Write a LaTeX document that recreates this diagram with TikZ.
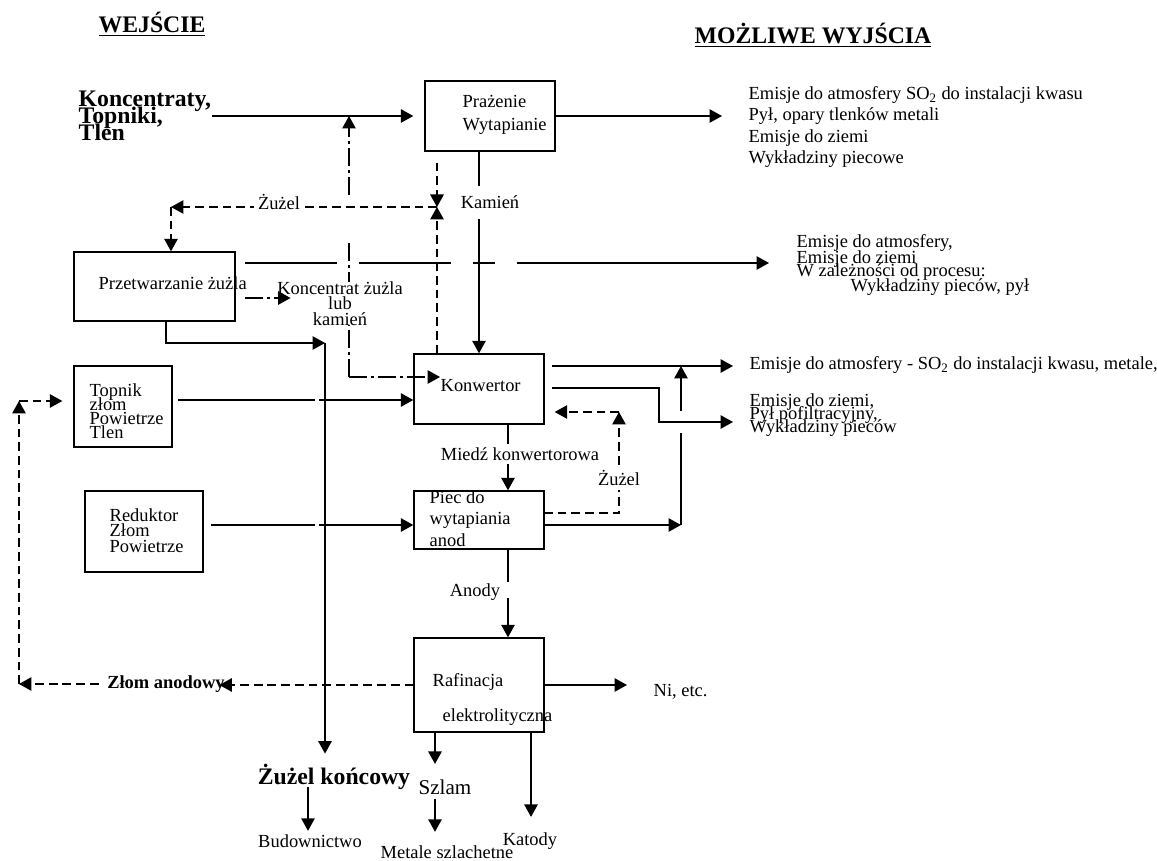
\documentclass[tikz,border=0pt]{standalone}
\usepackage{fontspec}
\setmainfont{Liberation Serif}
\usetikzlibrary{arrows.meta,calc}
\lineskiplimit=-\maxdimen

\tikzset{
  box/.style={draw, inner sep=0},
  txt/.style={inner sep=0, align=left, font=\fontsize{10.5}{12}\selectfont},
  lbl/.style={txt, fill=white},
  head/.style={inner sep=0, font=\fontsize{13.5}{16}\selectfont\bfseries},
  dsh/.style={dash pattern=on 5pt off 2.8pt},
  dd/.style={dash pattern=on 10pt off 2.5pt on 1.5pt off 2.5pt},
}

\begin{document}
\begin{tikzpicture}[x=0.02cm, y=-0.02cm, line width=0.8pt, >={Triangle[length=0.25cm,width=0.27cm]}]
  \useasboundingbox (0,0) rectangle (1157,861);

  % naglowki
  \node[head] (wej) at (152,24) {\underline{WEJŚCIE}};
  \node[head] (mozl) at (813,35) {\underline{MOŻLIWE WYJŚCIA}};

  % bloki procesu
  \node[box, minimum width=2.6cm, minimum height=1.4cm] (praz) at (490,116) {};
  \node[box, minimum width=3.22cm, minimum height=1.38cm] (przetw) at (154.5,286.5) {};
  \node[box, minimum width=1.96cm, minimum height=1.62cm] (topnik) at (123,406.5) {};
  \node[box, minimum width=2.36cm, minimum height=1.62cm] (redukt) at (144,531.5) {};
  \node[box, minimum width=2.6cm, minimum height=1.4cm] (konw) at (479,389) {};
  \node[box, minimum width=2.6cm, minimum height=1.16cm] (piec) at (479,520) {};
  \node[box, minimum width=2.6cm, minimum height=1.88cm] (raf) at (479,685) {};

  % napisy w blokach
  \node[txt, anchor=west, font=\fontsize{10.5}{13.1}\selectfont] (praz-t) at (462,115) {Prażenie\\Wytapianie};
  \node[txt, anchor=west] (przetw-t) at (98,283) {Przetwarzanie żużla};
  \node[txt, anchor=west, font=\fontsize{10.5}{8}\selectfont] (topnik-t) at (89,411) {Topnik\\złom\\Powietrze\\Tlen};
  \node[txt, anchor=west, font=\fontsize{10.5}{8.8}\selectfont] (redukt-t) at (109,530.5) {Reduktor\\Złom\\Powietrze};
  \node[txt, anchor=west] (konw-t) at (440,386) {Konwertor};
  \node[txt, anchor=west, font=\fontsize{10.5}{12.2}\selectfont] (piec-t) at (429,518.5) {Piec do\\wytapiania\\anod};
  \node[txt, anchor=west] (raf-t1) at (432,682) {Rafinacja};
  \node[txt, anchor=west] (raf-t2) at (442,717) {elektrolityczna};

  % wejscie i wyjscia
  \node[txt, anchor=west, font=\fontsize{13.5}{9.7}\selectfont\bfseries] (konc) at (78,116) {Koncentraty,\\Topniki,\\Tlen};
  \node[txt, anchor=west, font=\fontsize{10.5}{12.1}\selectfont] (em1) at (748,127) {Emisje do atmosfery SO\textsubscript{2} do instalacji kwasu\\Pył, opary tlenków metali\\Emisje do ziemi\\Wykładziny piecowe};
  \node[txt, anchor=west] (em2a) at (796,243) {Emisje do atmosfery,};
  \node[txt, anchor=west] (em2b) at (796,259) {Emisje do ziemi};
  \node[txt, anchor=west] (em2c) at (796,272) {W zależności od procesu:};
  \node[txt, anchor=west] (em2d) at (850,287) {Wykładziny pieców, pył};
  \node[txt, anchor=west] (em3) at (749,365) {Emisje do atmosfery - SO\textsubscript{2} do instalacji kwasu, metale,};
  \node[txt, anchor=west, font=\fontsize{10.5}{7.6}\selectfont] (em4) at (749,415) {Emisje do ziemi,\\Pył pofiltracyjny,\\Wykładziny pieców};
  \node[txt, anchor=west] (ni) at (653,692) {Ni, etc.};
  \node[txt, font=\fontsize{10.5}{12}\selectfont\bfseries] (zla) at (166,684) {Złom anodowy};
  \node[txt, font=\fontsize{13.5}{16}\selectfont\bfseries] (zk) at (334,777) {Żużel końcowy};
  \node[txt, font=\fontsize{12}{14}\selectfont] (szlam) at (445,787) {Szlam};
  \node[txt] (bud) at (310,841) {Budownictwo};
  \node[txt] (met) at (447,852) {Metale szlachetne};
  \node[txt] (kat) at (530,841) {Katody};

  % punkty pomocnicze
  \coordinate (zb) at (437,207); % zbieg linii zuzla
  \coordinate (zl) at (171,207);
  \coordinate (kd) at (349,377); % naroznik koncentratu
  \coordinate (kg1) at (349,240); % przerwa nad linia zuzla
  \coordinate (kg2) at (349,195);
  \coordinate (pk) at (245,298);
  \coordinate (pl) at (245,263);
  \coordinate (zs) at (325,343);
  \coordinate (tp) at (178,400);
  \coordinate (rp) at (211,525);
  \coordinate (mx) at (508,424);
  \coordinate (ax) at (508,549);
  \coordinate (k1) at (552,366);
  \coordinate (k2) at (552,388);
  \coordinate (k3) at (659,422);
  \coordinate (p1) at (544,525);
  \coordinate (pj) at (681,525);
  \coordinate (p2) at (544,513);
  \coordinate (pz) at (619,412);
  \coordinate (ca) at (19,684);
  \coordinate (cb) at (19,401);
  \coordinate (sx) at (435,732);
  \coordinate (kx) at (531,732);
  \coordinate (bx) at (308,787);

  % przeplyw glowny
  \draw[->, shorten >=0.22cm] (konc.east |- praz.west) -- (praz.west);
  \draw[->, shorten >=0.52cm] (praz.east) -- (praz.east -| em1.west);
  \draw[->] (konw.north |- praz.south) -- node[lbl, pos=0.25, xshift=0.22cm, inner ysep=0.2cm] {Kamień} (konw.north);
  \draw[->] (mx) -- node[lbl, pos=0.45, xshift=0.24cm, inner ysep=0.07cm] {Miedź konwertorowa} (mx |- piec.north);
  \draw[->, dash pattern=on 18.8pt off 9.1pt on 100pt] (ax) -- node[txt, pos=0.483, xshift=-0.66cm] {Anody} (ax |- raf.north);
  \draw[->, dash pattern=on 78pt off 2.3pt on 300pt] (tp) -- (tp -| konw.west);
  \draw[->, dash pattern=on 59.2pt off 2.3pt on 300pt] (rp) -- (rp -| piec.west);

  % zuzel z prazenia
  \draw[dsh, ->, shorten <=0.22cm] (praz.south -| zb) -- (zb);
  \draw[dsh, ->] (konw.north -| zb) -- (zb);
  \draw[dsh, ->] (zb) -- node[lbl, pos=0.594, yshift=0.1cm, inner xsep=2pt] {Żużel} (zl);
  \draw[dsh, ->] (zl) -- (przetw.north -| zl);

  % koncentrat zuzla lub kamien
  \draw[dd] (kd) -- (kg1);
  \draw[dd, ->] (kg2) -- (kd |- praz.west);
  \draw[dd, ->] (kd) -- (kd -| konw-t.west);
  \node[lbl, align=center, font=\fontsize{10.5}{8.8}\selectfont] (kz) at (340,303.5) {Koncentrat żużla\\lub\\kamień};
  \draw[dd, ->, shorten >=-0.28cm] (pk) -- (pk -| kz.west);
  \draw[->, dash pattern=on 52.3pt off 12.5pt on 52.3pt off 12.5pt on 12.5pt off 12.5pt on 300pt, shorten >=0.54cm] (pl) -- (pl -| em2a.west);
  \draw[->] ([xshift=0.23cm]przetw.south) |- (zs);
  \draw[->, shorten >=0.2cm] (zs) -- (zs |- zk.north);

  % wyjscia konwertora i pieca
  \draw[->, shorten >=0.32cm] (k1) -- (k1 -| em3.west);
  \draw[->, shorten >=0.32cm] (k2) -| (k3) -- (k3 -| em4.west);
  \draw[->] (p1) -- (pj);
  \draw[->, dash pattern=on 52.3pt off 12.5pt on 300pt] (pj) -- (pj |- k1);
  \draw[dsh, ->] (p2) -| node[lbl, pos=0.673, inner ysep=0.08cm] {Żużel} (pz);
  \draw[dsh, ->, shorten >=0.2cm] (pz) -- (pz -| konw.east);

  % rafinacja
  \draw[->, shorten >=0.52cm] (raf.east) -- (raf.east -| ni.west);
  \draw[dsh, ->, shorten >=-0.12cm] (raf.west) -- (raf.west -| zla.east);
  \draw[dsh, ->, shorten <=0.16cm] (zla.west) -- (ca);
  \draw[dsh, ->] (ca) -- (cb);
  \draw[dsh, ->, shorten >=0.22cm] (cb) -- (cb -| topnik.west);
  \draw[->, shorten >=0.3cm] (sx) -- (sx |- szlam.north);
  \draw[->, shorten <=0.08cm, shorten >=0.26cm] (szlam.south -| sx) -- (met.north -| sx);
  \draw[->, shorten >=0.3cm] (kx) -- (kx |- kat.north);
  \draw[->, shorten >=0.06cm] (bx) -- (bx |- bud.north);
\end{tikzpicture}
\end{document}
